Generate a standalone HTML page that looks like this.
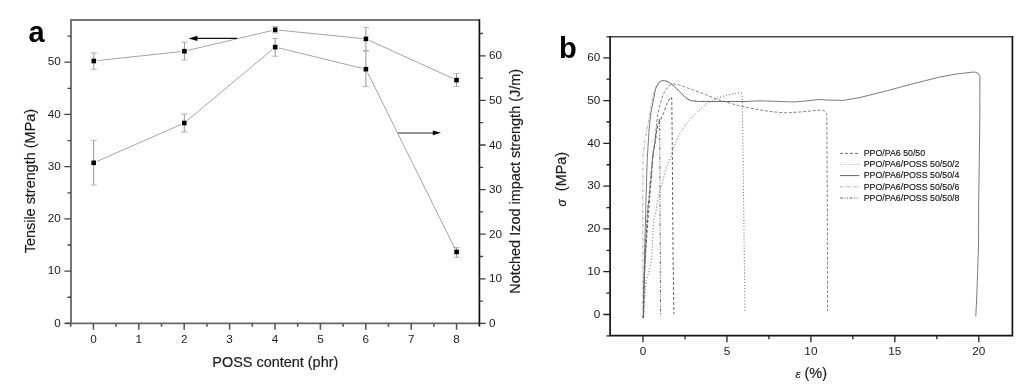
<!DOCTYPE html>
<html lang="en"><head><meta charset="utf-8"><title>Figure</title>
<style>html,body{margin:0;padding:0;background:#fff}body{width:1024px;height:392px;overflow:hidden}svg{display:block}text{font-family:"Liberation Sans",Arial,sans-serif;fill:#1c1c1c}.t{font-size:11.7px}.tb{font-size:11.8px}.ax{font-size:14.45px;stroke:#1c1c1c;stroke-width:0.18px}.lg{font-size:8.8px;fill:#161616;stroke:#161616;stroke-width:0.15px}.pl{font-size:29px;font-weight:bold;fill:#000}</style></head><body>
<svg width="1024" height="392" viewBox="0 0 1024 392">
<rect width="1024" height="392" fill="#fff"/>
<g id="plot-a">
<path d="M71.0 324.15000000000003V20.1H479.4" fill="none" stroke="#767676" stroke-width="2"/>
<path d="M65.5 323.35H479.4" fill="none" stroke="#666" stroke-width="1.7"/>
<path d="M479.4 19.3V326.55" fill="none" stroke="#111" stroke-width="1.7"/>
<path d="M71.0 323.35h-6.6M71.0 271.12h-6.6M71.0 218.89h-6.6M71.0 166.66h-6.6M71.0 114.43h-6.6M71.0 62.20h-6.6M71.0 297.24h-3.5M71.0 245.01h-3.5M71.0 192.78h-3.5M71.0 140.55h-3.5M71.0 88.32h-3.5M71.0 36.09h-3.5" stroke="#444" stroke-width="1.3" fill="none"/>
<path d="M93.40 323.35v6.3M138.80 323.35v6.3M184.20 323.35v6.3M229.60 323.35v6.3M275.00 323.35v6.3M320.40 323.35v6.3M365.80 323.35v6.3M411.20 323.35v6.3M456.60 323.35v6.3M70.70 323.35v3.5M116.10 323.35v3.5M161.50 323.35v3.5M206.90 323.35v3.5M252.30 323.35v3.5M297.70 323.35v3.5M343.10 323.35v3.5M388.50 323.35v3.5M433.90 323.35v3.5" stroke="#555" stroke-width="1.55" fill="none"/>
<path d="M479.4 323.40h6.2M479.4 278.80h6.2M479.4 234.20h6.2M479.4 189.60h6.2M479.4 145.00h6.2M479.4 100.40h6.2M479.4 55.80h6.2M479.4 301.10h3.5M479.4 256.50h3.5M479.4 211.90h3.5M479.4 167.30h3.5M479.4 122.70h3.5M479.4 78.10h3.5M479.4 33.50h3.5" stroke="#3c3c3c" stroke-width="1.3" fill="none"/>
<text class="t" x="60.8" y="326.55" text-anchor="end">0</text>
<text class="t" x="60.8" y="274.32" text-anchor="end">10</text>
<text class="t" x="60.8" y="222.09" text-anchor="end">20</text>
<text class="t" x="60.8" y="169.86" text-anchor="end">30</text>
<text class="t" x="60.8" y="117.63" text-anchor="end">40</text>
<text class="t" x="60.8" y="65.40" text-anchor="end">50</text>
<text class="t" x="93.40" y="342.6" text-anchor="middle">0</text>
<text class="t" x="138.80" y="342.6" text-anchor="middle">1</text>
<text class="t" x="184.20" y="342.6" text-anchor="middle">2</text>
<text class="t" x="229.60" y="342.6" text-anchor="middle">3</text>
<text class="t" x="275.00" y="342.6" text-anchor="middle">4</text>
<text class="t" x="320.40" y="342.6" text-anchor="middle">5</text>
<text class="t" x="365.80" y="342.6" text-anchor="middle">6</text>
<text class="t" x="411.20" y="342.6" text-anchor="middle">7</text>
<text class="t" x="456.60" y="342.6" text-anchor="middle">8</text>
<text class="t" x="489" y="327.00">0</text>
<text class="t" x="489" y="282.40">10</text>
<text class="t" x="489" y="237.80">20</text>
<text class="t" x="489" y="193.20">30</text>
<text class="t" x="489" y="148.60">40</text>
<text class="t" x="489" y="104.00">50</text>
<text class="t" x="489" y="59.40">60</text>
<text class="ax" x="275.3" y="366.6" text-anchor="middle">POSS content (phr)</text>
<text class="ax" transform="translate(34.5 181.1) rotate(-90)" text-anchor="middle">Tensile strength (MPa)</text>
<text class="ax" transform="translate(519.8 181.3) rotate(-90)" text-anchor="middle">Notched Izod impact strength (J/m)</text>
<text class="pl" x="28.5" y="42.3">a</text>
<path d="M93.8 53.0V69.2M184.4 42.1V59.9M275.2 26.6V33.0M365.9 27.6V50.8M456.5 73.6V86.6" stroke="#969696" stroke-width="1" fill="none"/>
<path d="M90.7 53.0h6.2M90.7 69.2h6.2M181.3 42.1h6.2M181.3 59.9h6.2M272.09999999999997 26.6h6.2M272.09999999999997 33.0h6.2M362.79999999999995 27.6h6.2M362.79999999999995 50.8h6.2M453.4 73.6h6.2M453.4 86.6h6.2" stroke="#a2a2a2" stroke-width="0.8" fill="none"/>
<path d="M97.38 60.61L180.82 51.59M187.90 50.37L271.70 30.63M278.78 30.16L362.32 38.54M369.18 40.39L453.22 78.61" stroke="#4a4a4a" stroke-width="0.5" fill="none"/>
<rect x="91.50" y="58.70" width="4.6" height="4.6" fill="#000"/>
<rect x="182.10" y="48.90" width="4.6" height="4.6" fill="#000"/>
<rect x="272.90" y="27.50" width="4.6" height="4.6" fill="#000"/>
<rect x="363.60" y="36.60" width="4.6" height="4.6" fill="#000"/>
<rect x="454.20" y="77.80" width="4.6" height="4.6" fill="#000"/>
<path d="M93.7 140.3V185.0M184.3 114.0V131.9M275.2 38.4V56.2M365.9 50.8V86.6M456.6 247.6V257.3" stroke="#969696" stroke-width="1" fill="none"/>
<path d="M90.60000000000001 140.3h6.2M90.60000000000001 185.0h6.2M181.20000000000002 114.0h6.2M181.20000000000002 131.9h6.2M272.09999999999997 38.4h6.2M272.09999999999997 56.2h6.2M362.79999999999995 50.8h6.2M362.79999999999995 86.6h6.2M453.5 247.6h6.2M453.5 257.3h6.2" stroke="#a2a2a2" stroke-width="0.8" fill="none"/>
<path d="M97.00 161.35L181.00 124.45M187.06 120.69L272.44 49.41M278.70 47.95L362.40 68.35M367.50 72.42L455.00 248.68" stroke="#4a4a4a" stroke-width="0.5" fill="none"/>
<rect x="91.40" y="160.50" width="4.6" height="4.6" fill="#000"/>
<rect x="182.00" y="120.70" width="4.6" height="4.6" fill="#000"/>
<rect x="272.90" y="44.80" width="4.6" height="4.6" fill="#000"/>
<rect x="363.60" y="66.90" width="4.6" height="4.6" fill="#000"/>
<rect x="454.30" y="249.60" width="4.6" height="4.6" fill="#000"/>
<path d="M237 38.4H195" stroke="#111" stroke-width="1.25" fill="none"/><path d="M188.6 38.4l8.8-2.6v5.2z" fill="#000"/>
<path d="M398 133H434" stroke="#2a2a2a" stroke-width="1.1" fill="none"/><path d="M441 132.8l-8.2-2.4v4.8z" fill="#000"/>
</g>
<g id="plot-b">
<path d="M606.5 36.7H1013.1999999999999" fill="none" stroke="#4a4a4a" stroke-width="1.5"/>
<path d="M610.1 36.0V335.65H1012.4V36.0" fill="none" stroke="#151515" stroke-width="1.7" stroke-linejoin="miter"/>
<path d="M610.1 314.50h-6.8M610.1 271.72h-6.8M610.1 228.94h-6.8M610.1 186.16h-6.8M610.1 143.38h-6.8M610.1 100.60h-6.8M610.1 57.82h-6.8M610.1 335.89h-3.6M610.1 293.11h-3.6M610.1 250.33h-3.6M610.1 207.55h-3.6M610.1 164.77h-3.6M610.1 121.99h-3.6M610.1 79.21h-3.6M643.00 335.65v6.5M726.95 335.65v6.5M810.90 335.65v6.5M894.85 335.65v6.5M978.80 335.65v6.5M684.98 335.65v3.6M768.92 335.65v3.6M852.88 335.65v3.6M936.83 335.65v3.6" stroke="#222" stroke-width="1.3" fill="none"/>
<text class="tb" x="600.3" y="317.70" text-anchor="end">0</text>
<text class="tb" x="600.3" y="274.92" text-anchor="end">10</text>
<text class="tb" x="600.3" y="232.14" text-anchor="end">20</text>
<text class="tb" x="600.3" y="189.36" text-anchor="end">30</text>
<text class="tb" x="600.3" y="146.58" text-anchor="end">40</text>
<text class="tb" x="600.3" y="103.80" text-anchor="end">50</text>
<text class="tb" x="600.3" y="61.02" text-anchor="end">60</text>
<text class="tb" x="643.00" y="355.3" text-anchor="middle">0</text>
<text class="tb" x="726.95" y="355.3" text-anchor="middle">5</text>
<text class="tb" x="810.90" y="355.3" text-anchor="middle">10</text>
<text class="tb" x="894.85" y="355.3" text-anchor="middle">15</text>
<text class="tb" x="978.80" y="355.3" text-anchor="middle">20</text>
<text class="pl" x="559" y="57.5">b</text>
<text class="ax" transform="translate(565.7 171.5) rotate(-90)" text-anchor="middle">(MPa)</text>
<text class="ax" transform="translate(565.7 202.8) rotate(-90)" text-anchor="middle" font-style="italic" style="font-size:12px">σ</text>
<text class="ax" x="811.2" y="378.3" text-anchor="middle"><tspan font-style="italic" font-size="11.5px">ε</tspan> (%)</text>
<path d="M643 318L642.8 200L643 155L645 140L647 129L649 118.7L651.5 104L654 92L657.5 83.5L661 81L663.2 80.5L666 81L670.8 83.4L678.5 90.4L684.8 96.8L691 100.6L700 101.5L745 101.5" fill="none" stroke="#999" stroke-width="0.8" stroke-dasharray="3 1.5 1 1.5"/>
<path d="M643.6 318L644.6 300L646.3 280.6L650.4 266L652 256L652.3 243L653.6 221.7L656 211.5L657.4 200L660 189.5L662.5 183L665.7 169L670.8 157.6L674 147L678.5 135.5L686 124L691 118.5L697.6 111.3L706.5 103.8L719 97.4L730 94.3L739.7 92.7L741.5 93.3L742.2 96L743 150L744.2 250L745 312" fill="none" stroke="#666" stroke-width="0.9" stroke-dasharray="1.1 2"/>
<path d="M643.5 318L644 290L645.3 250L646 238L647.9 206L649 200L650.4 182L652.3 160L654.9 142L656 129L657.4 116L660 104.4L663.2 94.2L668.3 86.6L671 84.4L673.4 83.8L678 84.6L690 88.8L701.4 93L719 100L740 106L757.5 109.5L770 111.5L780 112.5L785.5 112.8L800 112L818.7 110.2L823 110.3L825.5 111.6L826.8 114.8L827.3 200L827.6 311" fill="none" stroke="#666" stroke-width="0.8" stroke-dasharray="3 1.8"/>
<path d="M643.4 318L644.2 280L646.5 240L649.5 200L652 170L653 152L655.5 142L656.8 129L660.6 120L663.8 112.5L667.6 101.9L671 97L671.8 99L672.3 150L673 250L673.9 314" fill="none" stroke="#555" stroke-width="0.9" stroke-dasharray="3 2"/>
<path d="M643.2 318L643.8 290L645 255L647.5 215L650 185L652.5 160L655 140L657.5 126L659.3 119L659.7 122L660 200L660.6 316" fill="none" stroke="#555" stroke-width="0.9" stroke-dasharray="3 1.5 1 1.5 1 1.5"/>
<path d="M643.3 318L643.6 300L644.7 250L646 200L647.2 160L649.1 129L651 112L653 102L655.5 89L658.7 82.8L661 81L663.2 80.5L666 81L670.8 83.4L674.5 86.5L678.5 90.4L684.8 96.8L688 99.3L691 100.6L696 101.3L700 101.5L745 101.5L760 100.8L775 101.3L793 102L806 101L818.7 99.5L830 100.2L844 100.3L860 97.5L887.5 90.6L912 84L938.6 77.3L955 74.2L971.7 72.2L975.5 72.2L978.3 73.4L979.9 76.6L979.8 120L979.3 160L978.7 200L978.5 246L977 290L975.8 316.5" fill="none" stroke="#5a5a5a" stroke-width="0.8"/>
<path d="M840 153.4H859.3" stroke="#666" stroke-width="0.9" fill="none" stroke-dasharray="3 2"/>
<text class="lg" x="863.7" y="156.1">PPO/PA6 50/50</text>
<path d="M840 164.5H859.3" stroke="#aaa" stroke-width="0.9" fill="none" stroke-dasharray="1 1.6"/>
<text class="lg" x="863.7" y="167.2">PPO/PA6/POSS 50/50/2</text>
<path d="M840 175.6H859.3" stroke="#555" stroke-width="0.9" fill="none"/>
<text class="lg" x="863.7" y="178.3">PPO/PA6/POSS 50/50/4</text>
<path d="M840 186.8H859.3" stroke="#aaa" stroke-width="0.9" fill="none" stroke-dasharray="3 1.5 1 1.5"/>
<text class="lg" x="863.7" y="189.5">PPO/PA6/POSS 50/50/6</text>
<path d="M840 198.0H859.3" stroke="#555" stroke-width="0.9" fill="none" stroke-dasharray="3 1.5 1 1.5 1 1.5"/>
<text class="lg" x="863.7" y="200.7">PPO/PA6/POSS 50/50/8</text>
</g>
</svg></body></html>
